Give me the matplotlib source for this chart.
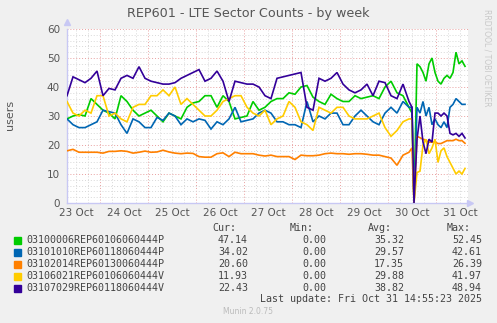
import matplotlib
matplotlib.use("Agg")
import matplotlib.pyplot as plt

# hours since 23 Oct 00:00
hours = [7.5, 10.5, 13.5, 16.5, 19.5, 22.5, 25.5, 28.5, 31.5, 34.5, 37.5, 40.5, 43.5, 46.5,
         49.5, 52.5, 55.5, 58.5, 61.5, 64.5, 67.5, 70.5, 73.5, 76.5, 79.5, 82.5, 85.5, 88.5,
         91.5, 94.5, 97.5, 100.5, 103.5, 106.5, 109.5, 112.5, 115.5, 118.5, 121.5, 124.5,
         127.5, 130.5, 133.5, 136.5, 139.5, 142.5, 145.5, 148.5, 151.5, 154.5, 157.5, 160.5,
         163.5, 166.5, 169.5, 172.5, 175.5, 178.5, 180, 181, 182.5, 184, 185.5, 187, 188.5,
         190, 191.5, 193, 194.5, 196, 197.5, 199, 200.5, 202, 203.5, 205, 206.5]

green = [29, 30, 30.5, 30, 36, 34, 32, 31, 29, 37, 35, 32, 30, 31, 32, 30, 28, 31, 30, 29,
         33, 34.5, 35, 37, 37, 33, 37, 35, 29, 29.5, 30, 35, 32, 33, 35, 36, 36, 38, 37.5, 40,
         40.5, 36.5, 35, 34, 37.5, 36, 35, 35, 37, 36, 36.5, 37, 36, 40, 42, 38, 37, 33,
         31, 0, 48, 47, 45, 42, 48, 50, 45, 42, 41, 43, 44, 43, 45, 52, 48, 49, 47.14]
blue = [29, 27, 26, 26, 27, 28, 32, 31.5, 31, 27, 24, 29, 28, 26, 26, 29.5, 28.5, 31, 30, 27,
        29, 28, 29, 28.5, 25.5, 28, 27, 29, 33, 28, 28.5, 29, 31, 32, 31, 28, 28, 27, 27, 26,
        35, 28, 30, 29, 31, 31, 27, 27, 30, 32, 30, 28, 27, 31, 33, 31, 35, 33,
        33, 0, 33, 31, 35, 30, 33, 27, 29, 27, 26, 28, 26, 33, 34, 36, 35, 34, 34.02]
orange = [18, 18.5, 17.5, 17.5, 17.5, 17.5, 17.2, 17.8, 17.8, 18, 17.8, 17.2, 17.5, 17.9,
          17.5, 17.6, 18.2, 17.6, 17.2, 17, 17.2, 17.1, 16, 15.8, 15.8, 17, 17.3, 16, 17.5,
          17, 17, 17, 16.5, 16.2, 16.5, 16, 16, 16, 15, 16.5, 16.3, 16.3, 16.5, 17, 17.2, 17,
          17, 16.8, 17, 17, 16.8, 16.5, 16.5, 16, 15.5, 13, 16.5, 17.5,
          19, 0, 23, 22.5, 22, 21.5, 21, 21, 21, 20.5, 20.5, 21, 21.5, 21.5, 21.5, 22, 21.5,
          21.5, 20.6]
yellow = [35, 31, 30, 32, 31, 37, 37, 30, 31, 29, 28, 33, 34, 34, 37, 37, 39, 37, 40, 34,
          36, 34, 32, 30, 30, 32, 35, 36, 37, 37, 33, 31, 30, 32, 27, 29, 30, 35, 33, 28,
          27, 25, 33, 32, 31, 33, 33, 30, 29, 29, 29, 30, 31, 26, 23, 25, 28, 29,
          29, 0, 10.5, 11, 20, 22, 17, 19, 22, 14, 18, 19, 16, 14, 12, 10, 11, 10, 11.93]
purple = [37, 43.5, 42.5, 41.5, 43, 45.5, 37, 39.5, 39, 43, 44, 43, 47, 43, 42, 41.5, 41, 41,
          41.5, 43, 44, 45, 46, 42, 43, 45.5, 42, 35, 42, 41.5, 41, 41, 40, 37, 36, 43, 43.5,
          44, 44.5, 45, 33, 32, 43, 42, 43, 45, 41, 39, 38, 39, 41, 37, 42, 41.5, 37, 36, 41, 35,
          33, 0, 22, 30, 21, 17, 22, 21, 31, 31, 30, 31, 30, 24, 23.5, 24, 23, 24, 22.43]

names = ["03100006REP60106060444P", "03101010REP60118060444P", "03102014REP60130060444P",
         "03106021REP60106060444V", "03107029REP60118060444V"]
colors = ["#00CC00", "#0066B3", "#FF8000", "#FFCC00", "#330099"]
cur = ["47.14", "34.02", "20.60", "11.93", "22.43"]
mins = ["0.00", "0.00", "0.00", "0.00", "0.00"]
avg = ["35.32", "29.57", "17.35", "29.88", "38.82"]
mx = ["52.45", "42.61", "26.39", "41.97", "48.94"]

day_labels = ["23 Oct", "24 Oct", "25 Oct", "26 Oct", "27 Oct", "28 Oct", "29 Oct", "30 Oct", "31 Oct"]

W, H = 497, 323
fig = plt.figure(figsize=(W / 100, H / 100), dpi=100, facecolor="#F0F0F0")
ax = fig.add_axes([67 / W, 1 - 203 / H, 401 / W, 174 / H], facecolor="white")

# grid: minor grey, major red, dotted
for h in range(12, 210, 6):
    if h % 24 == 0:
        ax.axvline(h, color="#E8A0A0", lw=0.7, ls=(0, (1, 2)), zorder=1)
    else:
        ax.axvline(h, color="#D8D8D8", lw=0.7, ls=(0, (1, 2)), zorder=1)
for v in range(2, 60, 2):
    if v % 10 == 0:
        ax.axhline(v, color="#E8A0A0", lw=0.7, ls=(0, (1, 2)), zorder=1)
    else:
        ax.axhline(v, color="#D8D8D8", lw=0.7, ls=(0, (1, 2)), zorder=1)
ax.axhline(60, color="#E8A0A0", lw=0.7, ls=(0, (1, 2)), zorder=1, clip_on=False)

for series, c in zip([green, blue, orange, yellow, purple], colors):
    ax.plot(hours, series, color=c, lw=1.2, zorder=3, solid_joinstyle="miter")

ax.set_xlim(7.5, 208)
ax.set_ylim(0, 60)
ax.set_yticks(range(0, 61, 10))
ax.set_xticks([12 + 24 * i for i in range(len(day_labels))])
ax.set_xticklabels(day_labels)
ax.tick_params(length=0, labelsize=7.5, colors="#555555")
ax.tick_params(axis="y", pad=5)
ax.tick_params(axis="x", pad=3.5)
for s in ["top", "right"]:
    ax.spines[s].set_visible(False)
for s in ["left", "bottom"]:
    ax.spines[s].set_color("#C8C8F4")
    ax.spines[s].set_linewidth(1.0)
ax.plot([0], [1.04], marker="^", color="#C8C8F4", ms=5, transform=ax.transAxes, clip_on=False)
ax.plot([1.005], [0], marker=">", color="#C8C8F4", ms=5, transform=ax.transAxes, clip_on=False)

fig.text(0.5, 1 - 14 / H, "REP601 - LTE Sector Counts - by week", ha="center", va="center",
         fontsize=9.2, color="#555555")
fig.text(10 / W, 1 - 115 / H, "users", rotation=90, ha="center", va="center",
         fontsize=8, color="#555555")
fig.text(487 / W, 1 - 58 / H, "RRDTOOL / TOBI OETIKER", rotation=270, ha="center",
         va="center", fontsize=5.5, color="#C8C8C8")

mono = "DejaVu Sans Mono"
fs = 7.2
tc = "#444444"
fig.text(212 / W, 1 - 228 / H, "Cur:", family=mono, fontsize=fs, color=tc, va="center")
fig.text(290 / W, 1 - 228 / H, "Min:", family=mono, fontsize=fs, color=tc, va="center")
fig.text(368 / W, 1 - 228 / H, "Avg:", family=mono, fontsize=fs, color=tc, va="center")
fig.text(447 / W, 1 - 228 / H, "Max:", family=mono, fontsize=fs, color=tc, va="center")
for i in range(len(names)):
    y = 1 - (240 + 12 * i) / H
    fig.patches.append(plt.Rectangle((14 / W, y - 3.5 / H), 7 / W, 7 / H, color=colors[i],
                                     transform=fig.transFigure, figure=fig))
    fig.text(26 / W, y, names[i], family=mono, fontsize=fs, color=tc, va="center")
    fig.text(248 / W, y, cur[i], family=mono, fontsize=fs, color=tc, va="center", ha="right")
    fig.text(326 / W, y, mins[i], family=mono, fontsize=fs, color=tc, va="center", ha="right")
    fig.text(404 / W, y, avg[i], family=mono, fontsize=fs, color=tc, va="center", ha="right")
    fig.text(482 / W, y, mx[i], family=mono, fontsize=fs, color=tc, va="center", ha="right")
fig.text(482 / W, 1 - 299 / H, "Last update: Fri Oct 31 14:55:23 2025", family=mono,
         fontsize=fs, color=tc, va="center", ha="right")
fig.text(248 / W, 1 - 312 / H, "Munin 2.0.75", fontsize=5.5, color="#BBBBBB",
         va="center", ha="center")

fig.savefig("out.png", dpi=100, facecolor=fig.get_facecolor())
